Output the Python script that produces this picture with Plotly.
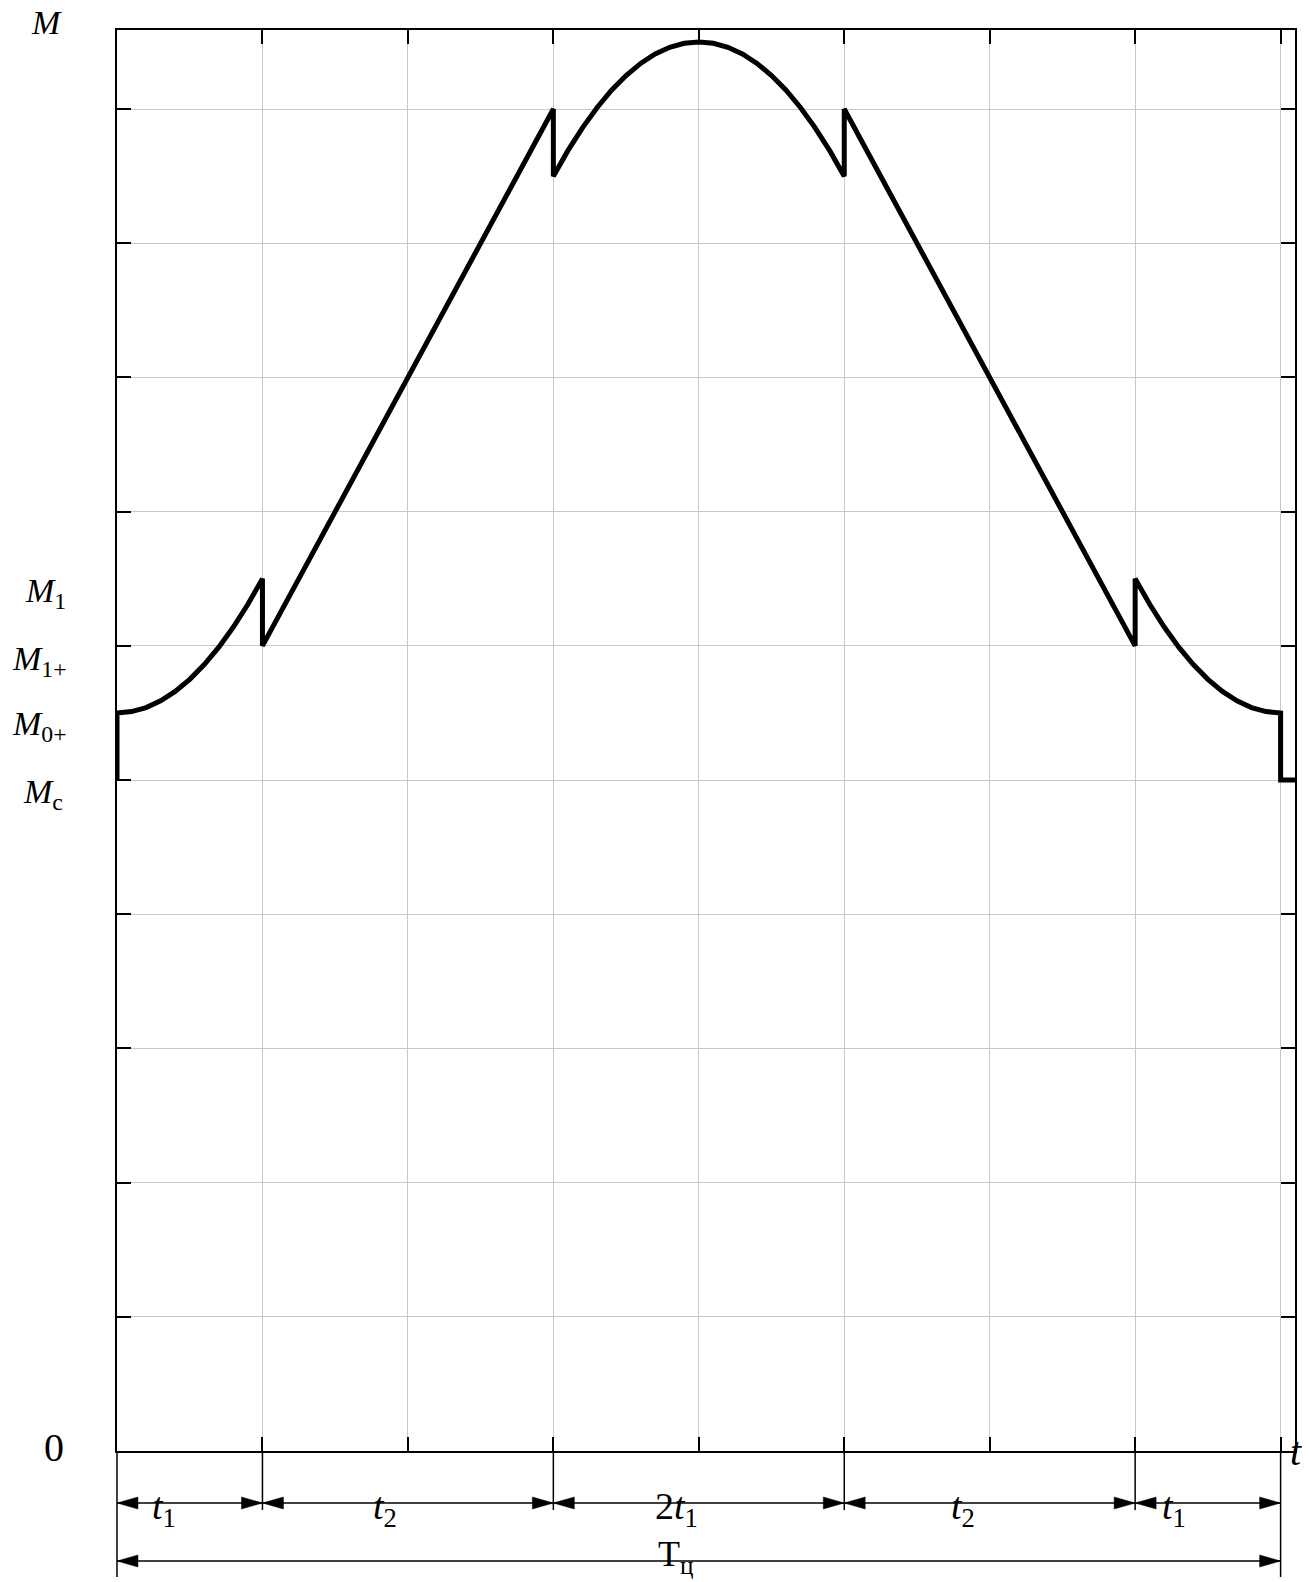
import plotly.graph_objects as go

# ---------------- data ----------------
# time axis in grid units (t1 = 1, t2 = 2)
t_vals = [0.0, 0.0, 0.1, 0.2, 0.3, 0.4, 0.5, 0.6, 0.7, 0.8, 0.9, 1.0, 1.0,
          3.0, 3.0, 3.1, 3.2, 3.3, 3.4, 3.5, 3.6, 3.7, 3.8, 3.9, 4.0,
          4.1, 4.2, 4.3, 4.4, 4.5, 4.6, 4.7, 4.8, 4.9, 5.0, 5.0,
          7.0, 7.0, 7.1, 7.2, 7.3, 7.4, 7.5, 7.6, 7.7, 7.8, 7.9, 8.0, 8.0, 8.1]
m_vals = [5.0, 5.5, 5.51, 5.54, 5.59, 5.66, 5.75, 5.86, 5.99, 6.14, 6.31, 6.5, 6.0,
          10.0, 9.5, 9.69, 9.86, 10.01, 10.14, 10.25, 10.34, 10.41, 10.46, 10.49, 10.5,
          10.49, 10.46, 10.41, 10.34, 10.25, 10.14, 10.01, 9.86, 9.69, 9.5, 10.0,
          6.0, 6.5, 6.31, 6.14, 5.99, 5.86, 5.75, 5.66, 5.59, 5.54, 5.51, 5.5, 5.0, 5.0]

x_grid = [0, 1, 2, 3, 4, 5, 6, 7, 8]
y_grid = [0, 1, 2, 3, 4, 5, 6, 7, 8, 9, 10]

level_vals = [6.5, 6.0, 5.5, 5.0]
level_labels = ["<i>M</i><sub>1</sub>", "<i>M</i><sub>1+</sub>",
                "<i>M</i><sub>0+</sub>", "<i>M</i><sub>с</sub>"]

seg_bounds = [0, 1, 3, 5, 7, 8]
seg_labels = ["<i>t</i><sub>1</sub>", "<i>t</i><sub>2</sub>", "2<i>t</i><sub>1</sub>",
              "<i>t</i><sub>2</sub>", "<i>t</i><sub>1</sub>"]
total_label = "T<sub>ц</sub>"

# ---------------- geometry / style ----------------
W, H = 1309, 1582
ML, MR, MT, MB = 117, 12, 30, 131
PW = W - ML - MR          # plot width px
PH = H - MT - MB          # plot height px
XMAX = 8.099
YMAX = 10.589
FONT = "Liberation Serif, Times New Roman, serif"


def xp(t):              # data x -> paper x
    return t / XMAX


def px_x(px):           # page pixel x -> paper x
    return (px - ML) / PW


def px_y(py):           # page pixel y -> paper y
    return (MT + PH - py) / PH


fig = go.Figure()
fig.add_trace(go.Scatter(x=t_vals, y=m_vals, mode="lines",
                         line=dict(color="black", width=5),
                         cliponaxis=False, hoverinfo="skip"))

axis_common = dict(showline=True, linecolor="black", linewidth=1.5, mirror="ticks",
                   ticks="inside", ticklen=14, tickwidth=1.5, tickcolor="black",
                   showticklabels=False, showgrid=True, gridcolor="#c8c8c8",
                   gridwidth=1, zeroline=False, fixedrange=True)

fig.update_layout(
    width=W, height=H,
    margin=dict(l=ML, r=MR, t=MT, b=MB, pad=0),
    plot_bgcolor="white", paper_bgcolor="white",
    showlegend=False,
    xaxis=dict(range=[0, XMAX], tickmode="array", tickvals=x_grid, **axis_common),
    yaxis=dict(range=[0, YMAX], tickmode="array", tickvals=y_grid, **axis_common),
    font=dict(family=FONT, color="black", size=30),
)

ann = []
# axis names
ann.append(dict(text="<i>M</i>", xref="paper", yref="paper", x=px_x(46), y=px_y(22),
                showarrow=False, xanchor="center", yanchor="middle",
                font=dict(size=34, family=FONT, color="black")))
ann.append(dict(text="0", xref="paper", yref="y", x=px_x(54), y=0, yshift=4,
                showarrow=False, xanchor="center", yanchor="middle",
                font=dict(size=40, family=FONT, color="black")))
ann.append(dict(text="<i>t</i>", xref="paper", yref="y", x=px_x(1298), y=0,
                showarrow=False, xanchor="center", yanchor="middle",
                font=dict(size=40, family=FONT, color="black")))
# level labels
level_left = [23, 10, 10, 21]
level_shift = [-14, -15, -13, -14]
for v, lab, lx, ys in zip(level_vals, level_labels, level_left, level_shift):
    ann.append(dict(text=lab, xref="paper", yref="y", x=px_x(lx), y=v, yshift=ys,
                    showarrow=False, xanchor="left", yanchor="middle",
                    font=dict(size=34, family=FONT, color="black")))

shapes = []
Y_DIM = 1503
Y_TOT = 1561
AL, AW = 21, 6  # arrow length / half width in px


def arrow(tip_t, py, d):
    xt = xp(tip_t)
    xb = xt - d * AL / PW
    yt = px_y(py)
    dy = AW / PH
    return dict(type="path", xref="paper", yref="paper",
                path=f"M {xt},{yt} L {xb},{yt + dy} L {xb},{yt - dy} Z",
                fillcolor="black", line=dict(color="black", width=0.5))


# extension lines
for i, b in enumerate(seg_bounds):
    outer = i == 0 or i == len(seg_bounds) - 1
    shapes.append(dict(type="line", xref="paper", yref="paper",
                       x0=xp(b), x1=xp(b), y0=px_y(1451), y1=px_y(1577 if outer else 1510),
                       line=dict(color="black", width=1.5)))
# segment dimension lines
seg_shift = [-26, -23, -22, -27, -34]
for i in range(len(seg_bounds) - 1):
    a, b = seg_bounds[i], seg_bounds[i + 1]
    shapes.append(dict(type="line", xref="paper", yref="paper",
                       x0=xp(a), x1=xp(b), y0=px_y(Y_DIM), y1=px_y(Y_DIM),
                       line=dict(color="black", width=1.5)))
    shapes.append(arrow(a, Y_DIM, -1))
    shapes.append(arrow(b, Y_DIM, 1))
    ann.append(dict(text=seg_labels[i], xref="x", yref="paper", x=(a + b) / 2,
                    xshift=seg_shift[i], y=px_y(1509), showarrow=False,
                    xanchor="center", yanchor="middle",
                    font=dict(size=38, family=FONT, color="black")))
# total cycle dimension
shapes.append(dict(type="line", xref="paper", yref="paper",
                   x0=xp(seg_bounds[0]), x1=xp(seg_bounds[-1]),
                   y0=px_y(Y_TOT), y1=px_y(Y_TOT), line=dict(color="black", width=1.5)))
shapes.append(arrow(seg_bounds[0], Y_TOT, -1))
shapes.append(arrow(seg_bounds[-1], Y_TOT, 1))
ann.append(dict(text=total_label, xref="x", yref="paper",
                x=(seg_bounds[0] + seg_bounds[-1]) / 2, xshift=-23, y=px_y(1581),
                showarrow=False, xanchor="center", yanchor="bottom",
                font=dict(size=36, family=FONT, color="black")))

fig.update_layout(annotations=ann, shapes=shapes)

fig.write_html("out.html", config={"displayModeBar": False},
               post_script="document.body.style.margin='0';")
